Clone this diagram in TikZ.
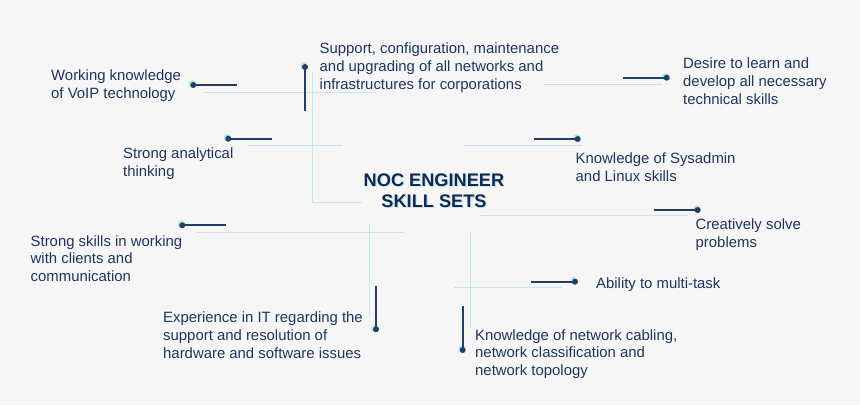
\documentclass[tikz,border=0pt]{standalone}
\usepackage{fontspec}
\setmainfont{Liberation Sans}
\usetikzlibrary{calc}
\definecolor{bgc}{HTML}{F6F6F6}
\definecolor{txtc}{HTML}{1E3561}
\definecolor{darkc}{HTML}{243F66}
\definecolor{titlec}{HTML}{102A52}
\definecolor{lightc}{HTML}{C4E6EF}
\definecolor{haloc}{HTML}{B5E3EE}
\begin{document}
\begin{tikzpicture}[x=1pt,y=-1pt,
  txt/.style={font=\fontsize{14.9}{17.8}\selectfont, text=txtc, align=left, anchor=west, inner sep=0pt},
  titletxt/.style={font=\fontsize{18.2}{21}\selectfont\bfseries, align=center, inner sep=0pt},
  lightln/.style={draw=lightc, line width=1pt},
  darkln/.style={draw=darkc, line width=1.8pt},
  dotn/.style={circle, fill=darkc, inner sep=0pt, minimum size=6pt}]
\fill[bgc] (0,0) rectangle (860,405);
\useasboundingbox (0,0) rectangle (860,405);

% light decorative lines
\draw[lightln] (205,92) -- (375,92);
\draw[lightln] (312,72) -- (312,202) -- (362,202);
\draw[lightln] (248,145) -- (342,145);
\draw[lightln] (463,145) -- (582,145);
\draw[lightln] (543,84) -- (662,84);
\draw[lightln] (480,215.7) -- (688,215.7);
\draw[lightln] (197,232) -- (404,232);
\draw[lightln] (369.3,223) -- (369.3,317);
\draw[lightln] (470.5,233) -- (470.5,328);
\draw[lightln] (454,287.3) -- (562,287.3);

% title
\node[titletxt, text=lightc] at (435.2,192) {NOC ENGINEER\\SKILL SETS};
\node[titletxt, text=titlec] (title) at (434,190.8) {NOC ENGINEER\\SKILL SETS};

% texts
\node[txt] (voip) at (51,85.5) {Working knowledge\\of VoIP technology};
\node[txt] (support) at (319.5,67.5) {Support, configuration, maintenance\\and upgrading of all networks and\\infrastructures for corporations};
\node[txt] (desire) at (683,81) {Desire to learn and\\develop all necessary\\technical skills};
\node[txt] (analyt) at (123,163.5) {Strong analytical\\thinking};
\node[txt] (sysadm) at (575.5,167) {Knowledge of Sysadmin\\and Linux skills};
\node[txt] (creat) at (695.5,234.5) {Creatively solve\\problems};
\node[txt] (clients) at (30.5,258.5) {Strong skills in working\\with clients and\\communication};
\node[txt] (multi) at (596,285) {Ability to multi-task};
\node[txt] (exper) at (163,335) {Experience in IT regarding the\\support and resolution of\\hardware and software issues};
\node[txt] (cabling) at (475,354) {Knowledge of network cabling,\\network classification and\\network topology};

% dots and dark connectors
\coordinate (e1) at (237.3,85);
\coordinate (e2) at (305,110.5);
\coordinate (e3) at (271.7,138.7);
\coordinate (e4) at (623.3,77.7);
\coordinate (e5) at (534.3,139);
\coordinate (e6) at (654,210);
\coordinate (e7) at (226,225.3);
\coordinate (e8) at (376,286);
\coordinate (e9) at (531,281.7);
\coordinate (e10) at (462.7,306);
\coordinate (c1) at (193.3,85);
\coordinate (c2) at (305,67);
\coordinate (c3) at (228.3,138.7);
\coordinate (c4) at (666.7,77.7);
\coordinate (c5) at (577.7,139);
\coordinate (c6) at (697.7,210);
\coordinate (c7) at (182.3,225.3);
\coordinate (c8) at (376,329.3);
\coordinate (c9) at (575,281.7);
\coordinate (c10) at (462.7,350);
\foreach \i in {1,...,10}{
  \fill[haloc] ($(c\i)+(-0.9,-0.9)$) circle (3.8pt);
  \node[dotn] (d\i) at (c\i) {};
  \draw[darkln] (d\i.center) -- (e\i);
}
\end{tikzpicture}
\end{document}
